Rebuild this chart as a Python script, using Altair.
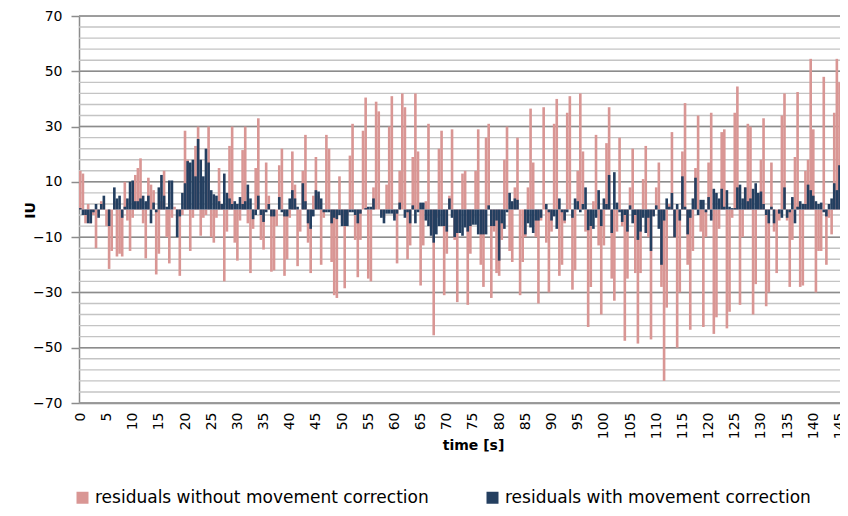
import altair as alt
import pandas as pd

SAMPLE_STEP = 0.5  # seconds between samples

# residuals without movement correction (one value per 0.5 s sample)
without_correction = [
    14, 13, -5, 2, -5, -2, -14, -1, 3, 2,
    -6, -21.5, -15, 3, -17, -16, -17, 10, -4, -15,
    -3, 12.5, 15, 18.5, -5, -17.7, 11.5, 9, 7, -23.5,
    -16, 3, 14, -10, -19.5, -3, 1, -3, -24, -2,
    28.5, 18, -15, -3, 23, 30, -9.5, -3, -2, 30,
    -10, -12, -3, 15, 2, -26, -8, 23, 30, -12,
    -18.5, -4, 21.5, 30, -5, -23, -7, 15, 33, -11,
    -14.5, 17, 5, -22.5, -22, -6, 16, 22, -24, -18,
    -3, 21, 9, -20.5, -8, 14, 27, -12, -23, 5,
    19, 5, -20, -3, 27, 22, -19, -31, -32, 12,
    -5, -28.5, -2, 19.5, 31, -11, -24.5, -11, 28.5, 40.5,
    -25, -26, 8, 39, 35.5, -2, -3, 9, 30, 41,
    -3, -19.5, 14, 42, 37, -18, -13, 19, 42, 21,
    -27.5, -13, 3, 31, -7, -45.5, -3, 22, 28.5, -31,
    -16, 5, 29, -11, -33.5, -5, 13, 14, -34.5, -16,
    -3, 14, 29, -20, -28, 26, 31, -32, -8, -23,
    -24, -11, 18, 30, -15, -19, 8, 26, -31, -19,
    -10, 8, 36.5, 17, -10, -34, -4, 37, -12, -30,
    -8, 31, 40, -24, -20, -5, 35, 41, -29, -22,
    14, 42, 21, -8, -42.5, -28, 3, 27, -13, -38,
    -13, 24, 37, -25, -33, -8, 26, -6, -47.5, -25,
    8, 22, -23, -48.5, -23, 11, 23, -10, -47, -2,
    8, 17, -28, -62, -35.5, 2, 28, -10, -50, -30,
    21, 38.5, -20, -43.5, -15, 15, 34, -8, -42.5, -10,
    17, 35, -45, -39, -7, 28, 29, -43, -37, -3,
    35, 44.5, -34.5, -10, 8, 31, 30, -38, -27, 5,
    18, 33, -35, -30, 17, -8, -23, -4, 34, 42,
    -4, -28, -11, 19, 42.5, -28, -27.5, 14, 18, 54.5,
    29, -30, -15, -15, 48, -20, -3, -9, 35, 54.5,
    46, -27, -17,
]

# residuals with movement correction
with_correction = [
    0.5, -2, -2, -5, -5, -1, 2, -3, 2, 5,
    0, -6, 0, 8, 4, 5, -3, 1, 4, 10,
    10.5, 3, 3, 4, 5, 3, 5, -5, 2.5, -1,
    8, 12.5, 5, 1, 10.5, 10.5, 0, -10, -2.5, 6,
    9.5, 17.5, 17, 18, 12, 25.5, 18, 12, 22, 17,
    7, 5.5, 5, 3, 2, 13, 6, 4, 2, 3,
    2, 4.5, 2, 3, 9, 4, -3.5, -2, 5, -2,
    -4.5, -1, 2, -2.5, -2.5, 0, 4.5, -1, -2.5, -2.5,
    4, 7, 4, 1, 0, 9.5, 3, -5, -7, -2.5,
    7, 6.5, 4, -1, -1, -1, -5, -3, -3.5, -2,
    -6, -6, -6, -1, -1, -2, -5, -1.5, 0, 0.5,
    1, 1, 4, 0, 0, -3, -5, -1.5, -1.5, -1.5,
    -4, -1.5, 2.5, 0, -3, -1, -5, 1.5, -5, -1,
    2.5, 2.5, -4, -6, -9.5, -12, -9, -6, -6, -6,
    -8, 4, -3, -10, -8.5, -8.5, -9.5, -6.5, -8, -6,
    -5.5, -5.5, -9, -9, -9, -9, 1.5, -6, -6, -4,
    -18.5, -5, -7, -1, 6, 3, 4, 3.5, 0, 0,
    -9, -5, -6.5, -8.5, -4, -4, -3, 0, 2, -1,
    -4, -2.5, -7, 4, -1, -4, -1, 0, -3, 4,
    3, -1, 2, 8, -7.5, -6, -7, -3, 7, -6,
    4, 2, 12.5, -8.5, 13.5, 2.5, -1, -4.5, -2, -8,
    1.5, -5, -2, -11, -8, -3, -8.5, -3, -15, -2.5,
    1.5, -7, -20, -4, 4, 1, 6, -10, 2, -4,
    12, 1, -9, -3, 4, 11.5, -2, 3.5, 3.5, -1,
    4.5, -4, 7.5, 6, 4, 7.5, 1, 7, 1, 0.5,
    0.5, 8, 9, 4, 8, 3, 4, 7.5, 9.5, 6,
    6.5, 2, -2, -5, 1, -5, 0, -1.5, -3, 8,
    -3, -1, 4.5, -5, 1, 3, 2, 2, 9, 7,
    5, 3, 2, 2.5, -1, -2.5, 2, 4, 9.5, 7,
    16, 7.5, 2,
]

series_names = [
    "residuals without movement correction",
    "residuals with movement correction",
]
series_colors = ["#D99694", "#243F60"]
x_tick_values = list(range(0, 146, 5))
y_tick_values = list(range(-70, 71, 20))
minor_grid_values = list(range(-70, 71, 4))

rows = []
for name, vals in zip(series_names, [without_correction, with_correction]):
    for i, v in enumerate(vals):
        rows.append({"series": name, "t": i * SAMPLE_STEP, "value": v})
df = pd.DataFrame(rows)

FONT = "DejaVu Sans"
x_scale = alt.Scale(domain=[-0.25, 145.1], nice=False, zero=False)
y_scale = alt.Scale(domain=[-70, 70], nice=False, zero=False)

y_axis = alt.Axis(
    values=y_tick_values,
    labelFontSize=14,
    labelFont=FONT,
    labelColor="#000000",
    labelPadding=9,
    tickSize=8,
    tickColor="#8C8C8C",
    tickWidth=1.5,
    grid=False,
    domainColor="#8C8C8C",
    domainWidth=1.5,
    titleFont=FONT,
    titleFontSize=14,
    titleFontWeight="bold",
    titleColor="#000000",
    titleAngle=270,
    titleX=-49,
    titleY=194,
    titleAlign="center",
    titleBaseline="middle",
)

minor = alt.Chart(pd.DataFrame({"v": minor_grid_values})).mark_rule(
    color="#C4C4C4", strokeWidth=1.4
).encode(y=alt.Y("v:Q", scale=y_scale, axis=y_axis, title="IU"))

major = alt.Chart(pd.DataFrame({"v": y_tick_values})).mark_rule(
    color="#8C8C8C", strokeWidth=1.5
).encode(y=alt.Y("v:Q", scale=y_scale, axis=y_axis, title="IU"))

bars = alt.Chart(df).transform_calculate(
    t0="datum.t - 0.25", t1="datum.t + 0.25"
).mark_bar(clip=True, strokeWidth=0).encode(
    x=alt.X(
        "t0:Q",
        scale=x_scale,
        title="time [s]",
        axis=alt.Axis(
            values=x_tick_values,
            format="d",
            labelAngle=270,
            labelFontSize=14,
            labelFont=FONT,
            labelColor="#000000",
            labelPadding=9,
            labelOverlap=False,
            labelFlush=False,
            ticks=False,
            grid=False,
            domainColor="#8C8C8C",
            domainWidth=1.5,
            titleFont=FONT,
            titleFontSize=14,
            titleFontWeight="bold",
            titleColor="#000000",
            titleX=394,
            titleY=42,
            titleBaseline="middle",
        ),
    ),
    x2="t1:Q",
    y=alt.Y("value:Q", scale=y_scale, stack=None, axis=y_axis, title="IU"),
    y2=alt.datum(0),
    color=alt.Color(
        "series:N",
        scale=alt.Scale(domain=series_names, range=series_colors),
        legend=alt.Legend(
            orient="none",
            legendX=-5,
            legendY=473,
            direction="horizontal",
            columns=2,
            title=None,
            symbolType="square",
            symbolSize=144,
            symbolStrokeWidth=0,
            labelFont=FONT,
            labelFontSize=17,
            labelColor="#000000",
            labelOffset=4,
            labelLimit=600,
            columnPadding=55,
            padding=0,
        ),
    ),
)

chart = alt.layer(minor, major, bars).properties(
    width=761,
    height=387,
    padding={"left": 71, "top": 8, "right": 0, "bottom": 105},
    autosize=alt.AutoSizeParams(type="none"),
).configure_view(stroke=None).configure(font=FONT)

chart.save("out.html", embed_options={"renderer": "svg", "actions": False})
